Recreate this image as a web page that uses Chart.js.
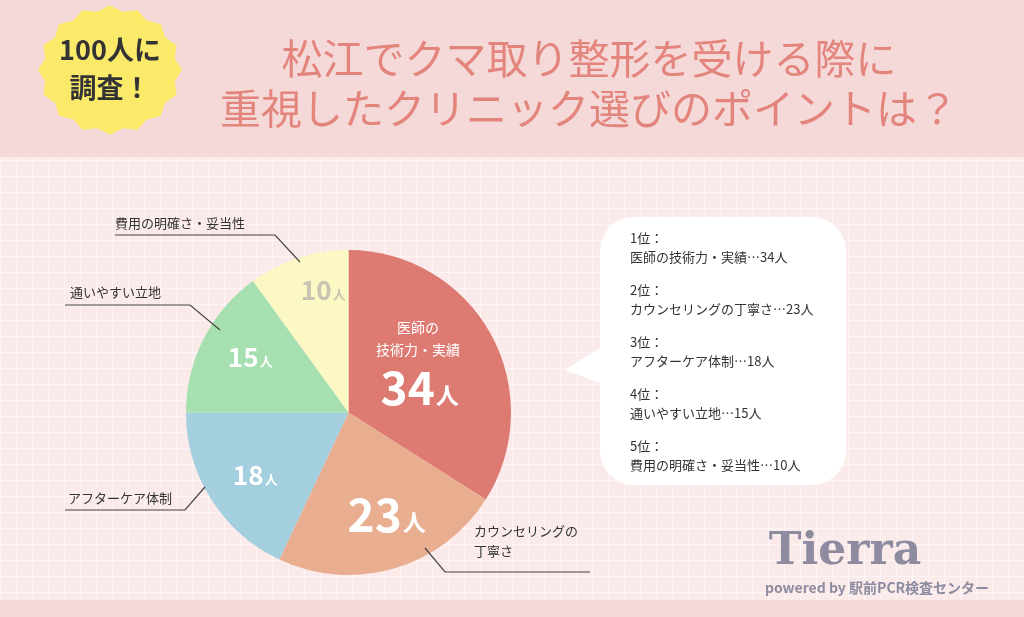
<!DOCTYPE html>
<html><head><meta charset="utf-8">
<script src="https://cdn.jsdelivr.net/npm/chart.js@4"></script>
<style>html,body{margin:0;padding:0;background:#f9eaea}#wrap{position:absolute;left:0;top:0;width:1024px;height:617px}</style>
</head><body><div id="wrap"><canvas id="c" width="1024" height="617"></canvas></div>
<script>
var categories = ["医師の技術力・実績", "カウンセリングの丁寧さ", "アフターケア体制", "通いやすい立地", "費用の明確さ・妥当性"];
var values = [34, 23, 18, 15, 10];
var colors = ["#dd7b72", "#e9ae8f", "#a3cfdf", "#a6dfb0", "#fbf8c3"];
var numColors = ["#fff", "#fff", "#fff", "#fff", "#c9c2b0"];
var F = '"Noto Sans CJK JP", "Noto Sans", sans-serif';

var deco = {
  id: 'deco',
  beforeDraw: function(chart) {
    var c = chart.ctx;
    c.save();
    c.fillStyle = '#faeaea'; c.fillRect(0, 0, 1024, 617);
    c.strokeStyle = 'rgba(255,255,255,0.5)'; c.lineWidth = 1;
    for (var x = 0; x < 1024; x += 16) { c.beginPath(); c.moveTo(x + .5, 0); c.lineTo(x + .5, 617); c.stroke(); }
    for (var y = 0; y < 617; y += 16) { c.beginPath(); c.moveTo(0, y + .5); c.lineTo(1024, y + .5); c.stroke(); }
    c.fillStyle = '#f5d9d9'; c.fillRect(0, 0, 1024, 157);
    c.fillRect(0, 600, 1024, 17);
    // badge
    c.fillStyle = '#fbe96a'; c.beginPath();
    for (var i = 0; i < 32; i++) {
      var a = i / 32 * Math.PI * 2, r = i % 2 ? 66 : 72;
      c.lineTo(110 + Math.cos(a) * r, 70 + Math.sin(a) * r * 0.9);
    }
    c.fill();
    c.fillStyle = '#333'; c.textAlign = 'center'; c.textBaseline = 'middle';
    c.font = 'bold 27px ' + F; c.fillText('100人に', 110, 50);
    c.fillText('調査！', 110, 88);
    c.fillStyle = '#e3857c'; c.font = '41px ' + F;
    c.fillText('松江でクマ取り整形を受ける際に', 589, 58);
    c.fillText('重視したクリニック選びのポイントは？', 589, 108);
    // bubble
    c.fillStyle = '#fff';
    c.beginPath(); c.roundRect(600, 217, 246, 268, 34); c.fill();
    c.beginPath(); c.moveTo(605, 345); c.lineTo(565, 370); c.lineTo(605, 385); c.fill();
    c.fillStyle = '#333'; c.textAlign = 'left'; c.font = '13px ' + F;
    for (var k = 0; k < categories.length; k++) {
      c.fillText((k + 1) + '位：', 630, 238 + k * 52);
      c.fillText(categories[k] + '…' + values[k] + '人', 630, 257 + k * 52);
    }
    // logo
    c.textAlign = 'center'; c.fillStyle = '#8d8ba0'; c.font = 'bold 44px "DejaVu Serif", serif';
    c.fillText('Tierra', 845, 553);
    c.font = 'bold 14px ' + F; c.fillText('powered by 駅前PCR検査センター', 877, 588);
    c.restore();
  },
  afterDatasetsDraw: function(chart) {
    var c = chart.ctx, arcs = chart.getDatasetMeta(0).data;
    c.save(); c.textBaseline = 'middle'; c.textAlign = 'center';
    var pos = [[418, 388], [385, 515], [254, 475], [249, 357], [322, 290]];
    for (var i = 0; i < arcs.length; i++) {
      var p = pos[i];
      c.fillStyle = numColors[i];
      var big = i < 2 ? 46 : 26;
      c.font = 'bold ' + big + 'px ' + F;
      var w = c.measureText(values[i]).width;
      var sw = big * 0.45;
      c.fillText(values[i], p[0] - sw / 2, p[1]);
      c.font = 'bold ' + Math.round(big * 0.5) + 'px ' + F;
      c.fillText('人', p[0] + w / 2 + 2, p[1] + big * 0.15);
    }
    c.fillStyle = '#fff'; c.font = '14px ' + F;
    c.fillText('医師の', 418, 328); c.fillText('技術力・実績', 418, 350);
    // callouts
    c.strokeStyle = '#444'; c.lineWidth = 1.2; c.fillStyle = '#333'; c.font = '13px ' + F;
    var lines = [
      [[425, 548], [445, 572], [590, 572]],
      [[205, 487], [185, 510], [65, 510]],
      [[220, 330], [190, 305], [65, 305]],
      [[300, 262], [275, 235], [115, 235]]
    ];
    lines.forEach(function(l) { c.beginPath(); l.forEach(function(q, j) { j ? c.lineTo(q[0], q[1]) : c.moveTo(q[0], q[1]); }); c.stroke(); });
    c.textAlign = 'left';
    c.fillText('カウンセリングの', 474, 531); c.fillText('丁寧さ', 474, 551);
    c.fillText('アフターケア体制', 68, 498);
    c.fillText('通いやすい立地', 70, 292);
    c.fillText('費用の明確さ・妥当性', 115, 223);
    c.restore();
  }
};

new Chart(document.getElementById('c'), {
  type: 'pie',
  data: { labels: categories, datasets: [{ data: values, backgroundColor: colors, borderWidth: 0 }] },
  options: {
    responsive: false, animation: false,
    layout: { padding: { left: 186, top: 250, right: 513, bottom: 42 } },
    plugins: { legend: { display: false }, tooltip: { enabled: false } }
  },
  plugins: [deco]
});
</script></body></html>
